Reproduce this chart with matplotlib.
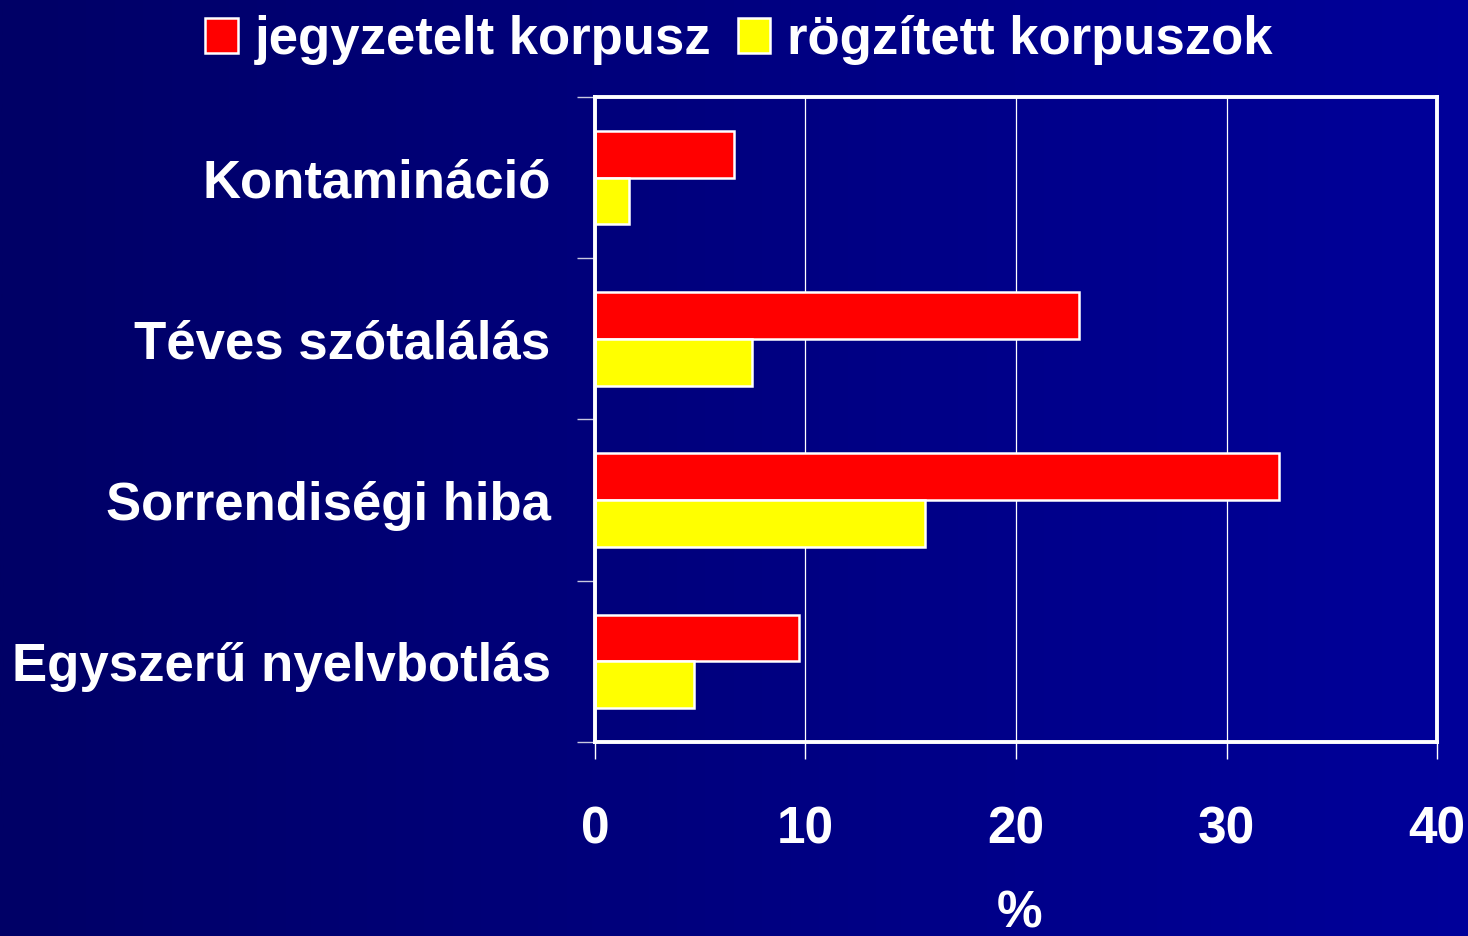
import numpy as np
import matplotlib
matplotlib.use("Agg")
import matplotlib.pyplot as plt
from matplotlib.patches import Patch
from matplotlib.colors import LinearSegmentedColormap

categories = ["Kontamináció", "Téves szótalálás", "Sorrendiségi hiba", "Egyszerű nyelvbotlás"]
series_names = ["jegyzetelt korpusz", "rögzített korpuszok"]
jegyzetelt = [6.6, 23.0, 32.5, 9.7]
rogzitett = [1.6, 7.45, 15.7, 4.7]
xticks = [0, 10, 20, 30, 40]
xlabel = "%"

plt.rcParams['font.family'] = ['Liberation Sans', 'DejaVu Sans']
plt.rcParams['font.weight'] = 'bold'

fig = plt.figure(figsize=(14.68, 9.36), dpi=100)

# gradient background
bg = fig.add_axes([0, 0, 1, 1], zorder=-10)
grad = np.linspace(0, 1, 512).reshape(1, -1)
cmap = LinearSegmentedColormap.from_list("bg", ["#000066", "#00009a"])
bg.imshow(grad, aspect='auto', cmap=cmap, extent=[0, 1, 0, 1])
bg.set_axis_off()

ax = fig.add_axes([0.4053, 0.2073, 0.5736, 0.6891])
ax.set_facecolor((0, 0, 0, 0))
y = np.arange(len(categories))
h = 0.29
ax.barh(y - h / 2, jegyzetelt, height=h, color="#ff0000", edgecolor="white", linewidth=1.8, zorder=3)
ax.barh(y + h / 2, rogzitett, height=h, color="#ffff00", edgecolor="white", linewidth=1.8, zorder=3)

ax.set_xlim(0, 40)
ax.set_ylim(3.5, -0.5)
ax.set_xticks(xticks)
ax.set_xticklabels([str(t) for t in xticks])
ax.set_yticks(y)
ax.set_yticklabels(categories)
ax.set_yticks(np.arange(-0.5, 4, 1), minor=True)
ax.tick_params(axis='y', which='major', length=0, pad=32, labelsize=38, labelcolor='white')
ax.tick_params(axis='y', which='minor', length=13, width=1, color='#c8c8e0', direction='out')
ax.tick_params(axis='x', which='major', length=12, width=1, color='white', direction='out',
               pad=34, labelsize=37, labelcolor='white')
ax.xaxis.grid(True, color='white', linewidth=0.9, zorder=1)
ax.set_axisbelow(True)
for s in ax.spines.values():
    s.set_color('white')
    s.set_linewidth(2.8)
    s.set_zorder(5)

fig.text(1020 / 1468, 1 - 914 / 936, xlabel, color='white', fontsize=37, fontweight='bold',
         ha='center', va='center')

handles = [Patch(facecolor="#ff0000", edgecolor="white", linewidth=1.8),
           Patch(facecolor="#ffff00", edgecolor="white", linewidth=1.8)]
leg = fig.legend(handles, series_names, loc='center', bbox_to_anchor=(739 / 1468, 1 - 40 / 936),
                 ncol=2, frameon=False, fontsize=38, handlelength=0.62, handleheight=0.62,
                 handletextpad=0.32, columnspacing=0.5, borderaxespad=0, borderpad=0)
for t in leg.get_texts():
    t.set_color('white')
    t.set_fontweight('bold')

fig.savefig("out.png", dpi=100)
